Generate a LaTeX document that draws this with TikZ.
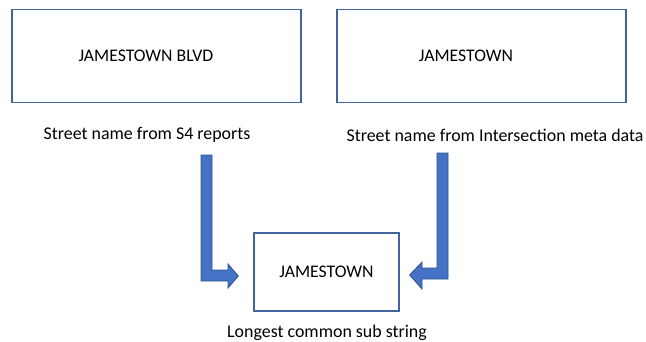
\documentclass[tikz,border=0pt]{standalone}
\usepackage{fontspec}
\setmainfont{Carlito}
\usetikzlibrary{calc}
\definecolor{boxline}{RGB}{68,100,160}
\definecolor{arrfill}{RGB}{68,114,196}
\definecolor{arrline}{RGB}{47,82,143}
\begin{document}
\begin{tikzpicture}[x=1pt,y=-1pt,
  box/.style={draw=boxline,line width=1.3pt,fill=white,inner sep=0pt},
  boxtext/.style={font=\fontsize{17.7}{20}\selectfont},
  lbl/.style={font=\fontsize{17.9}{21}\selectfont,inner sep=0pt},
  bentarrow/.style={fill=arrfill,draw=arrline,line width=0.8pt,line join=miter}]
\useasboundingbox (0,0) rectangle (646,341);
% boxes
\node[box,minimum width=289pt,minimum height=93pt] (b1) at (156.5,56) {};
\node[boxtext] (t1) at (146,56) {JAMESTOWN BLVD};
\node[box,minimum width=289pt,minimum height=93pt] (b2) at (481.5,56) {};
\node[boxtext] (t2) at (466,56) {JAMESTOWN};
\node[box,minimum width=145pt,minimum height=78pt] (b3) at (326.5,272) {};
\node[boxtext] (t3) at (326.5,272) {JAMESTOWN};
% labels
\node[lbl] (l1) at (147,135) {Street name from S4 reports};
\node[lbl] (l2) at (495,135) {Street name from Intersection meta data};
\node[lbl] (l3) at (327,333) {Longest common sub string};
% left bent arrow
\draw[bentarrow] (201,155) -- (212,155) -- (212,270) -- (228,270) -- (228,264)
  -- ($(b3.west)+(-15,4)$) -- (228,288) -- (228,281) -- (201,281) -- cycle;
% right bent arrow
\draw[bentarrow] (448,153) -- (437,153) -- (437,268) -- (422,268) -- (422,262)
  -- ($(b3.east)+(10,3)$) -- (422,289) -- (422,279) -- (448,279) -- cycle;
\end{tikzpicture}
\end{document}
